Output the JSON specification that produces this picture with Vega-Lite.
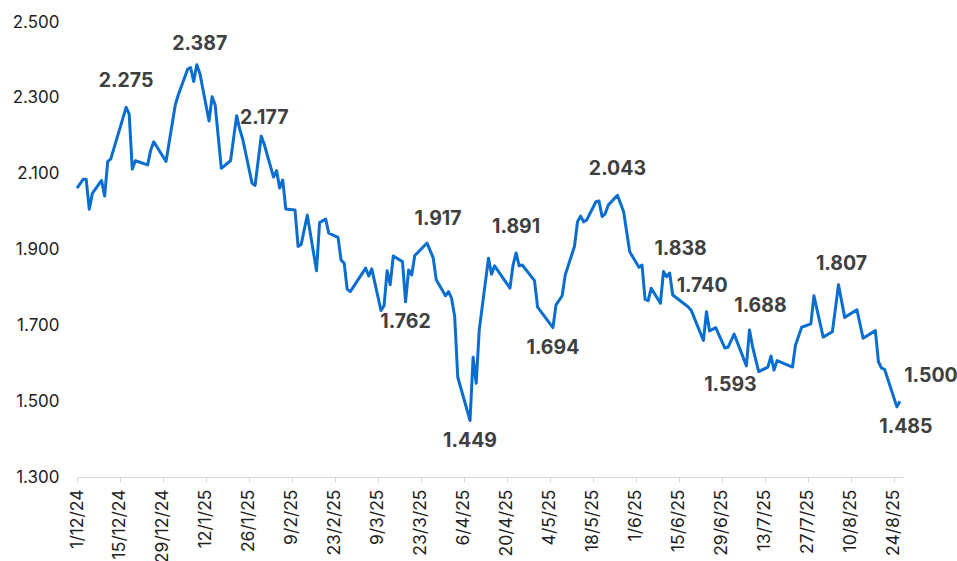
{
  "$schema": "https://vega.github.io/schema/vega-lite/v6.json",
  "autosize": "none",
  "width": 826,
  "height": 455,
  "padding": {"left": 77, "top": 22, "right": 54, "bottom": 84},
  "background": "white",
  "config": {"view": {"stroke": null}, "font": "Inter"},
  "datasets": {
    "series": [
      {"date": "2024-12-01", "value": 2.062},
      {"date": "2024-12-03", "value": 2.085},
      {"date": "2024-12-04", "value": 2.085},
      {"date": "2024-12-05", "value": 2.006},
      {"date": "2024-12-06", "value": 2.048},
      {"date": "2024-12-09", "value": 2.082},
      {"date": "2024-12-10", "value": 2.041},
      {"date": "2024-12-11", "value": 2.132},
      {"date": "2024-12-12", "value": 2.139},
      {"date": "2024-12-17", "value": 2.275},
      {"date": "2024-12-18", "value": 2.257},
      {"date": "2024-12-19", "value": 2.112},
      {"date": "2024-12-20", "value": 2.134},
      {"date": "2024-12-24", "value": 2.123},
      {"date": "2024-12-25", "value": 2.162},
      {"date": "2024-12-26", "value": 2.184},
      {"date": "2024-12-30", "value": 2.132},
      {"date": "2025-01-02", "value": 2.281},
      {"date": "2025-01-03", "value": 2.308},
      {"date": "2025-01-06", "value": 2.375},
      {"date": "2025-01-07", "value": 2.380},
      {"date": "2025-01-08", "value": 2.343},
      {"date": "2025-01-09", "value": 2.387},
      {"date": "2025-01-10", "value": 2.365},
      {"date": "2025-01-13", "value": 2.239},
      {"date": "2025-01-14", "value": 2.303},
      {"date": "2025-01-15", "value": 2.281},
      {"date": "2025-01-17", "value": 2.114},
      {"date": "2025-01-20", "value": 2.134},
      {"date": "2025-01-22", "value": 2.253},
      {"date": "2025-01-23", "value": 2.217},
      {"date": "2025-01-24", "value": 2.190},
      {"date": "2025-01-27", "value": 2.075},
      {"date": "2025-01-28", "value": 2.069},
      {"date": "2025-01-30", "value": 2.199},
      {"date": "2025-01-31", "value": 2.177},
      {"date": "2025-02-03", "value": 2.091},
      {"date": "2025-02-04", "value": 2.108},
      {"date": "2025-02-05", "value": 2.062},
      {"date": "2025-02-06", "value": 2.083},
      {"date": "2025-02-07", "value": 2.007},
      {"date": "2025-02-10", "value": 2.004},
      {"date": "2025-02-11", "value": 1.908},
      {"date": "2025-02-12", "value": 1.913},
      {"date": "2025-02-14", "value": 1.991},
      {"date": "2025-02-17", "value": 1.844},
      {"date": "2025-02-18", "value": 1.971},
      {"date": "2025-02-20", "value": 1.980},
      {"date": "2025-02-21", "value": 1.943},
      {"date": "2025-02-24", "value": 1.932},
      {"date": "2025-02-25", "value": 1.872},
      {"date": "2025-02-26", "value": 1.864},
      {"date": "2025-02-27", "value": 1.795},
      {"date": "2025-02-28", "value": 1.789},
      {"date": "2025-03-05", "value": 1.851},
      {"date": "2025-03-06", "value": 1.830},
      {"date": "2025-03-07", "value": 1.849},
      {"date": "2025-03-10", "value": 1.739},
      {"date": "2025-03-11", "value": 1.752},
      {"date": "2025-03-12", "value": 1.844},
      {"date": "2025-03-13", "value": 1.807},
      {"date": "2025-03-14", "value": 1.883},
      {"date": "2025-03-17", "value": 1.868},
      {"date": "2025-03-18", "value": 1.762},
      {"date": "2025-03-19", "value": 1.846},
      {"date": "2025-03-20", "value": 1.833},
      {"date": "2025-03-21", "value": 1.884},
      {"date": "2025-03-25", "value": 1.917},
      {"date": "2025-03-27", "value": 1.878},
      {"date": "2025-03-28", "value": 1.820},
      {"date": "2025-03-31", "value": 1.778},
      {"date": "2025-04-01", "value": 1.789},
      {"date": "2025-04-02", "value": 1.771},
      {"date": "2025-04-03", "value": 1.723},
      {"date": "2025-04-04", "value": 1.563},
      {"date": "2025-04-08", "value": 1.449},
      {"date": "2025-04-09", "value": 1.616},
      {"date": "2025-04-10", "value": 1.547},
      {"date": "2025-04-11", "value": 1.688},
      {"date": "2025-04-14", "value": 1.877},
      {"date": "2025-04-15", "value": 1.835},
      {"date": "2025-04-16", "value": 1.857},
      {"date": "2025-04-21", "value": 1.798},
      {"date": "2025-04-22", "value": 1.859},
      {"date": "2025-04-23", "value": 1.891},
      {"date": "2025-04-24", "value": 1.857},
      {"date": "2025-04-25", "value": 1.859},
      {"date": "2025-04-29", "value": 1.818},
      {"date": "2025-04-30", "value": 1.748},
      {"date": "2025-05-05", "value": 1.694},
      {"date": "2025-05-06", "value": 1.754},
      {"date": "2025-05-08", "value": 1.778},
      {"date": "2025-05-09", "value": 1.833},
      {"date": "2025-05-12", "value": 1.908},
      {"date": "2025-05-13", "value": 1.973},
      {"date": "2025-05-14", "value": 1.988},
      {"date": "2025-05-15", "value": 1.973},
      {"date": "2025-05-16", "value": 1.978},
      {"date": "2025-05-19", "value": 2.026},
      {"date": "2025-05-20", "value": 2.028},
      {"date": "2025-05-21", "value": 1.987},
      {"date": "2025-05-22", "value": 1.994},
      {"date": "2025-05-23", "value": 2.017},
      {"date": "2025-05-26", "value": 2.043},
      {"date": "2025-05-28", "value": 2.000},
      {"date": "2025-05-30", "value": 1.894},
      {"date": "2025-06-02", "value": 1.853},
      {"date": "2025-06-03", "value": 1.859},
      {"date": "2025-06-04", "value": 1.769},
      {"date": "2025-06-05", "value": 1.765},
      {"date": "2025-06-06", "value": 1.798},
      {"date": "2025-06-09", "value": 1.758},
      {"date": "2025-06-10", "value": 1.842},
      {"date": "2025-06-11", "value": 1.828},
      {"date": "2025-06-12", "value": 1.838},
      {"date": "2025-06-13", "value": 1.780},
      {"date": "2025-06-18", "value": 1.749},
      {"date": "2025-06-19", "value": 1.740},
      {"date": "2025-06-23", "value": 1.660},
      {"date": "2025-06-24", "value": 1.736},
      {"date": "2025-06-25", "value": 1.685},
      {"date": "2025-06-27", "value": 1.694},
      {"date": "2025-06-30", "value": 1.640},
      {"date": "2025-07-01", "value": 1.642},
      {"date": "2025-07-03", "value": 1.677},
      {"date": "2025-07-07", "value": 1.593},
      {"date": "2025-07-08", "value": 1.688},
      {"date": "2025-07-09", "value": 1.644},
      {"date": "2025-07-11", "value": 1.578},
      {"date": "2025-07-14", "value": 1.590},
      {"date": "2025-07-15", "value": 1.619},
      {"date": "2025-07-16", "value": 1.582},
      {"date": "2025-07-17", "value": 1.607},
      {"date": "2025-07-22", "value": 1.590},
      {"date": "2025-07-23", "value": 1.648},
      {"date": "2025-07-25", "value": 1.695},
      {"date": "2025-07-28", "value": 1.704},
      {"date": "2025-07-29", "value": 1.778},
      {"date": "2025-08-01", "value": 1.669},
      {"date": "2025-08-04", "value": 1.683},
      {"date": "2025-08-06", "value": 1.807},
      {"date": "2025-08-08", "value": 1.721},
      {"date": "2025-08-12", "value": 1.741},
      {"date": "2025-08-14", "value": 1.666},
      {"date": "2025-08-18", "value": 1.686},
      {"date": "2025-08-19", "value": 1.604},
      {"date": "2025-08-20", "value": 1.587},
      {"date": "2025-08-21", "value": 1.584},
      {"date": "2025-08-25", "value": 1.485},
      {"date": "2025-08-26", "value": 1.500}
    ],
    "labels": [
      {"date": "2024-12-17", "value": 2.275, "side": "above"},
      {"date": "2025-01-09", "value": 2.387, "side": "above-near"},
      {"date": "2025-01-31", "value": 2.177, "side": "above"},
      {"date": "2025-03-18", "value": 1.762, "side": "below"},
      {"date": "2025-03-25", "value": 1.917, "side": "above-right"},
      {"date": "2025-04-08", "value": 1.449, "side": "below"},
      {"date": "2025-04-23", "value": 1.891, "side": "above"},
      {"date": "2025-05-05", "value": 1.694, "side": "below"},
      {"date": "2025-05-26", "value": 2.043, "side": "above"},
      {"date": "2025-06-12", "value": 1.838, "side": "above-right"},
      {"date": "2025-06-19", "value": 1.740, "side": "above-right"},
      {"date": "2025-07-07", "value": 1.593, "side": "below-left"},
      {"date": "2025-07-08", "value": 1.688, "side": "above-right"},
      {"date": "2025-08-06", "value": 1.807, "side": "above-near"},
      {"date": "2025-08-25", "value": 1.485, "side": "below-right"},
      {"date": "2025-08-26", "value": 1.500, "side": "far-right"}
    ]
  },
  "encoding": {
    "x": {
      "field": "date",
      "type": "temporal",
      "scale": {"domain": ["2024-12-01T00:00:00", "2025-08-27T00:00:00"]},
      "axis": {
        "title": null,
        "format": "%-d/%-m/%y",
        "values": ["2024-12-01T00:00:00", "2024-12-15T00:00:00", "2024-12-29T00:00:00", "2025-01-12T00:00:00", "2025-01-26T00:00:00", "2025-02-09T00:00:00", "2025-02-23T00:00:00", "2025-03-09T00:00:00", "2025-03-23T00:00:00", "2025-04-06T00:00:00", "2025-04-20T00:00:00", "2025-05-04T00:00:00", "2025-05-18T00:00:00", "2025-06-01T00:00:00", "2025-06-15T00:00:00", "2025-06-29T00:00:00", "2025-07-13T00:00:00", "2025-07-27T00:00:00", "2025-08-10T00:00:00", "2025-08-24T00:00:00"],
        "labelAngle": 270,
        "labelFontSize": 17.5,
        "labelColor": "#222222",
        "labelFont": "Inter",
        "labelPadding": 7,
        "domainColor": "#d9d9d9",
        "tickColor": "#d9d9d9",
        "tickSize": 5,
        "grid": false,
        "labelOverlap": false,
        "labelFlush": false
      }
    },
    "y": {
      "field": "value",
      "type": "quantitative",
      "scale": {"domain": [1.3, 2.5], "nice": false, "zero": false},
      "axis": {
        "title": null,
        "values": [1.3, 1.5, 1.7, 1.9, 2.1, 2.3, 2.5],
        "format": ".3f",
        "labelFontSize": 17,
        "labelColor": "#222222",
        "labelFont": "Inter",
        "domain": false,
        "ticks": false,
        "grid": false,
        "labelPadding": 18
      }
    }
  },
  "layer": [
    {
      "data": {"name": "series"},
      "mark": {"type": "line", "color": "#0A6ED1", "strokeWidth": 3, "strokeJoin": "round"}
    },
    {
      "data": {"name": "labels"},
      "transform": [{"filter": "datum.side === 'above'"}],
      "mark": {"type": "text", "dy": -26, "fontSize": 19.5, "fontWeight": "bold", "color": "#404040", "font": "Inter"},
      "encoding": {"text": {"field": "value", "type": "quantitative", "format": ".3f"}}
    },
    {
      "data": {"name": "labels"},
      "transform": [{"filter": "datum.side === 'above-near'"}],
      "mark": {"type": "text", "dx": 3, "dy": -21, "fontSize": 19.5, "fontWeight": "bold", "color": "#404040", "font": "Inter"},
      "encoding": {"text": {"field": "value", "type": "quantitative", "format": ".3f"}}
    },
    {
      "data": {"name": "labels"},
      "transform": [{"filter": "datum.side === 'below'"}],
      "mark": {"type": "text", "dy": 20, "fontSize": 19.5, "fontWeight": "bold", "color": "#404040", "font": "Inter"},
      "encoding": {"text": {"field": "value", "type": "quantitative", "format": ".3f"}}
    },
    {
      "data": {"name": "labels"},
      "transform": [{"filter": "datum.side === 'above-right'"}],
      "mark": {"type": "text", "dx": 11, "dy": -24, "fontSize": 19.5, "fontWeight": "bold", "color": "#404040", "font": "Inter"},
      "encoding": {"text": {"field": "value", "type": "quantitative", "format": ".3f"}}
    },
    {
      "data": {"name": "labels"},
      "transform": [{"filter": "datum.side === 'below-left'"}],
      "mark": {"type": "text", "dx": -16, "dy": 19, "fontSize": 19.5, "fontWeight": "bold", "color": "#404040", "font": "Inter"},
      "encoding": {"text": {"field": "value", "type": "quantitative", "format": ".3f"}}
    },
    {
      "data": {"name": "labels"},
      "transform": [{"filter": "datum.side === 'below-right'"}],
      "mark": {"type": "text", "dx": 9, "dy": 20, "fontSize": 19.5, "fontWeight": "bold", "color": "#404040", "font": "Inter"},
      "encoding": {"text": {"field": "value", "type": "quantitative", "format": ".3f"}}
    },
    {
      "data": {"name": "labels"},
      "transform": [{"filter": "datum.side === 'far-right'"}],
      "mark": {"type": "text", "dx": 31, "dy": -25, "fontSize": 19.5, "fontWeight": "bold", "color": "#404040", "font": "Inter"},
      "encoding": {"text": {"field": "value", "type": "quantitative", "format": ".3f"}}
    }
  ]
}
